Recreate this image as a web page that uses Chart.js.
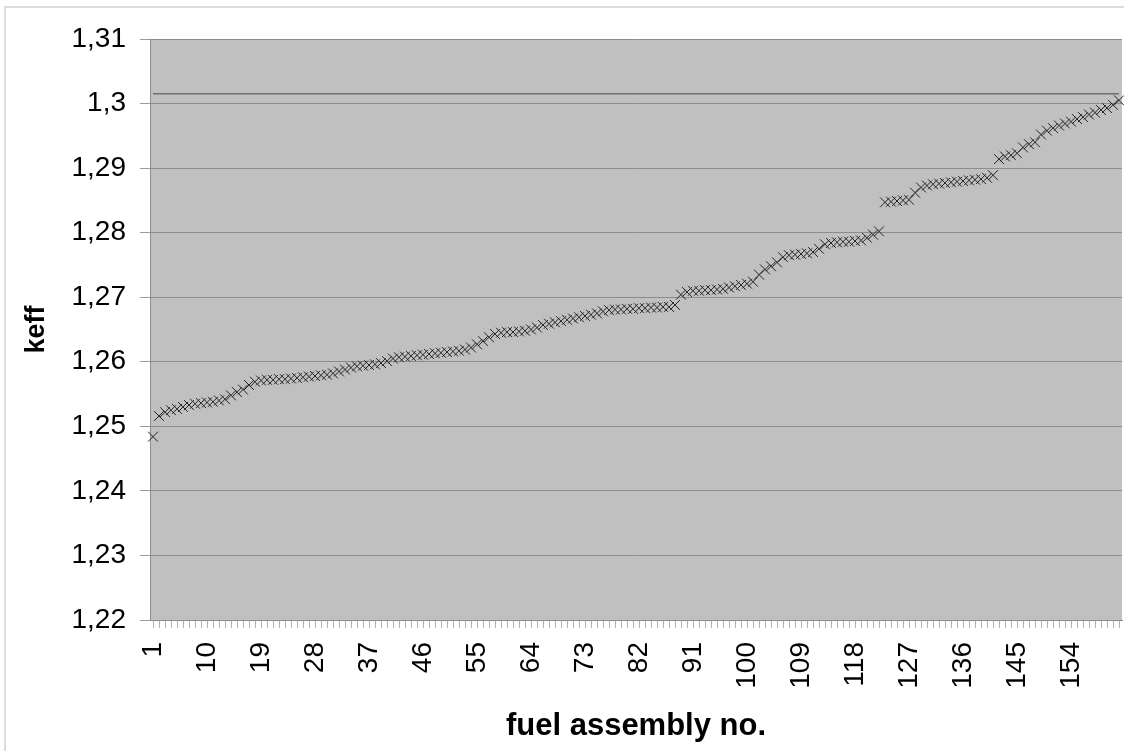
<!DOCTYPE html>
<html lang="en">
<head>
    <meta charset="UTF-8">
    <title>keff per fuel assembly</title>
    <script src="https://cdn.jsdelivr.net/npm/chart.js"></script>
    <style>
        html, body { margin: 0; padding: 0; background: #fff; }
        #wrap { position: relative; width: 1124px; height: 751px; overflow: hidden; }
        #frame {
            position: absolute; left: 4px; top: 6px; width: 1140px; height: 770px;
            border: 2px solid #dcdcdc; pointer-events: none;
        }
    </style>
</head>
<body>
<div id="wrap">
    <canvas id="keffChart" width="1124" height="751"></canvas>
    <div id="frame"></div>
</div>

<script>
    // fuel assembly numbers 1..162
    const assemblies = [];
    for (let i = 1; i <= 162; i++) assemblies.push(String(i));

    // keff per assembly, sorted ascending
    const keff = [
        1.2484, 1.2516, 1.2522, 1.2525, 1.2527, 1.2530, 1.2533, 1.2535, 1.2536, 1.2537,
        1.2538, 1.2540, 1.2542, 1.2548, 1.2553, 1.2557, 1.2564, 1.2569, 1.2571, 1.2572,
        1.2572, 1.2573, 1.2573, 1.2574, 1.2575, 1.2576, 1.2577, 1.2578, 1.2579, 1.2580,
        1.2582, 1.2585, 1.2588, 1.2591, 1.2593, 1.2594, 1.2595, 1.2596, 1.2598, 1.2601,
        1.2605, 1.2607, 1.2608, 1.2609, 1.2610, 1.2611, 1.2612, 1.2613, 1.2614, 1.2615,
        1.2616, 1.2617, 1.2619, 1.2622, 1.2627, 1.2632, 1.2638, 1.2643, 1.2645, 1.2646,
        1.2646, 1.2647, 1.2648, 1.2650, 1.2653, 1.2657, 1.2659, 1.2661, 1.2663, 1.2665,
        1.2667, 1.2669, 1.2671, 1.2673, 1.2675, 1.2678, 1.2680, 1.2681, 1.2681, 1.2682,
        1.2682, 1.2683, 1.2683, 1.2684, 1.2684, 1.2685, 1.2685, 1.2688, 1.2704, 1.2708,
        1.2710, 1.2710, 1.2711, 1.2711, 1.2712, 1.2713, 1.2715, 1.2717, 1.2719, 1.2721,
        1.2724, 1.2735, 1.2743, 1.2748, 1.2754, 1.2762, 1.2765, 1.2766, 1.2767, 1.2768,
        1.2770, 1.2775, 1.2782, 1.2784, 1.2785, 1.2786, 1.2786, 1.2787, 1.2788, 1.2792,
        1.2797, 1.2802, 1.2847, 1.2848, 1.2849, 1.2850, 1.2851, 1.2862, 1.2870, 1.2873,
        1.2875, 1.2876, 1.2877, 1.2878, 1.2879, 1.2880, 1.2881, 1.2882, 1.2883, 1.2885,
        1.2889, 1.2914, 1.2918, 1.2920, 1.2923, 1.2932, 1.2937, 1.2940, 1.2952, 1.2958,
        1.2962, 1.2966, 1.2969, 1.2972, 1.2976, 1.2979, 1.2983, 1.2986, 1.2990, 1.2993,
        1.2998, 1.3005
    ];

    // horizontal limit line
    const keffLimit = 1.3015;
    const limitLine = assemblies.map(() => keffLimit);

    // axis range
    const yMin = 1.22;
    const yMax = 1.31;
    const yStep = 0.01;
    const labelEvery = 9;

    const FONT = "'Liberation Sans', Arial, sans-serif";

    // grey plot area like the old Excel charts
    const plotBackground = {
        id: 'plotBackground',
        beforeDraw(chart) {
            const { ctx, chartArea: a } = chart;
            ctx.save();
            ctx.fillStyle = '#c0c0c0';
            ctx.fillRect(a.left, a.top, a.right - a.left, a.bottom - a.top);
            ctx.restore();
        }
    };

    const ctx = document.getElementById('keffChart').getContext('2d');
    new Chart(ctx, {
        type: 'line',
        data: {
            labels: assemblies,
            datasets: [
                {
                    label: 'limit',
                    data: limitLine,
                    borderColor: '#6e6e6e',
                    borderWidth: 1.5,
                    pointRadius: 0,
                    fill: false
                },
                {
                    label: 'keff',
                    data: keff,
                    showLine: false,
                    pointStyle: 'crossRot',
                    pointRadius: 7,
                    pointBorderWidth: 1,
                    pointBorderColor: '#262626',
                    borderColor: '#262626',
                    clip: 10
                }
            ]
        },
        options: {
            responsive: false,
            animation: false,
            layout: {
                autoPadding: false,
                padding: { left: 0, top: 39, right: 2, bottom: 0 }
            },
            plugins: {
                legend: { display: false },
                tooltip: { enabled: false }
            },
            scales: {
                x: {
                    type: 'category',
                    offset: true,
                    grid: {
                        drawOnChartArea: false,
                        drawTicks: true,
                        tickLength: 8,
                        tickColor: '#b4b4b4',
                        offset: false
                    },
                    border: { color: '#8c8c8c', width: 1 },
                    ticks: {
                        autoSkip: false,
                        minRotation: 90,
                        maxRotation: 90,
                        padding: 14,
                        color: '#000',
                        font: { family: FONT, size: 28 },
                        callback: function (val, index) {
                            return index % labelEvery === 0 ? this.getLabelForValue(val) : '';
                        }
                    },
                    title: {
                        display: true,
                        text: 'fuel assembly no.',
                        color: '#000',
                        font: { family: FONT, size: 31, weight: 'bold' },
                        padding: { top: 0, bottom: 6 }
                    },
                    afterFit: (scale) => {
                        scale.height = 131;
                        scale.paddingLeft = 0;
                        scale.paddingRight = 0;
                    }
                },
                y: {
                    min: yMin,
                    max: yMax,
                    grid: {
                        color: '#8c8c8c',
                        tickColor: '#9a9a9a',
                        tickLength: 10
                    },
                    border: { color: '#8c8c8c', width: 1 },
                    ticks: {
                        stepSize: yStep,
                        padding: 14,
                        color: '#000',
                        font: { family: FONT, size: 28 },
                        callback: (v) => String(Math.round(v * 100) / 100).replace('.', ',')
                    },
                    title: {
                        display: true,
                        text: 'keff',
                        color: '#000',
                        font: { family: FONT, size: 27, weight: 'bold' },
                        padding: { top: 20, bottom: 0 }
                    },
                    afterFit: (scale) => { scale.width = 150; }
                }
            }
        },
        plugins: [plotBackground]
    });
</script>
</body>
</html>
